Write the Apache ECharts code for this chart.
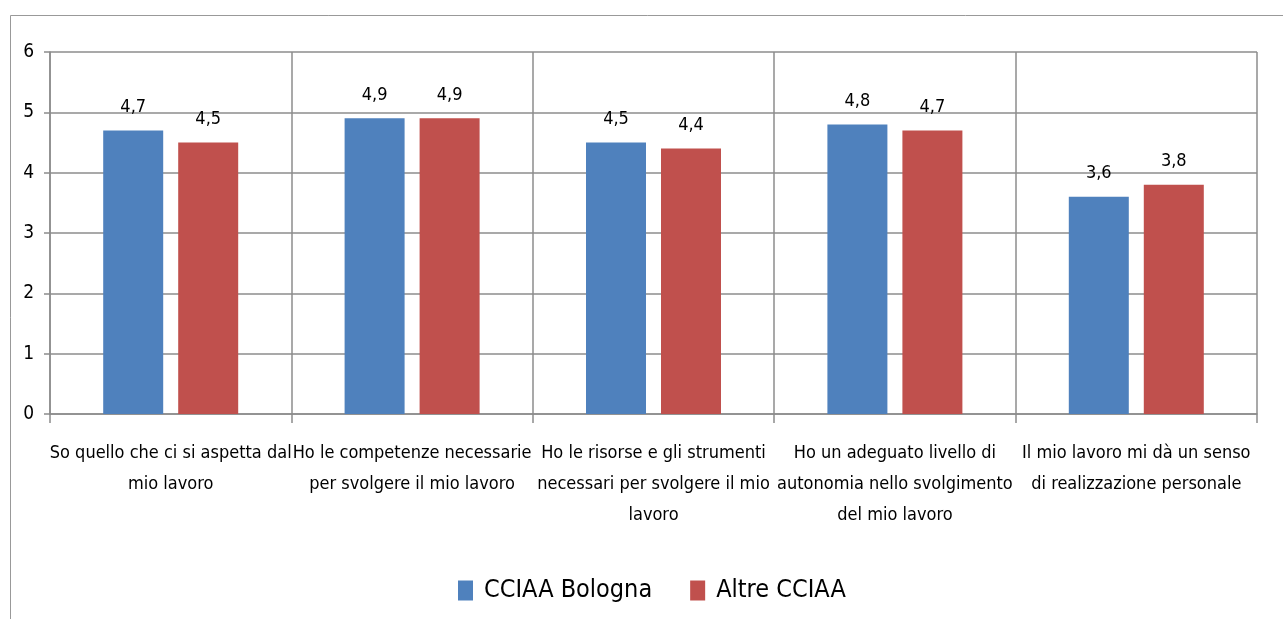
<!DOCTYPE html>
<html>
<head>
<meta charset="utf-8">
<script src="https://cdn.jsdelivr.net/npm/echarts@6/dist/echarts.min.js"></script>
<style>
  html, body { margin: 0; padding: 0; background: #fff; }
  #chart { width: 1283px; height: 619px; }
</style>
</head>
<body>
<div id="chart"></div>
<script>
// categorie (a capo come nel grafico originale)
var categories = [
  "So quello che ci si aspetta dal\nmio lavoro",
  "Ho le competenze necessarie\nper svolgere il mio lavoro",
  "Ho le risorse e gli strumenti\nnecessari per svolgere il mio\nlavoro",
  "Ho un adeguato livello di\nautonomia nello svolgimento\ndel mio lavoro",
  "Il mio lavoro mi dà un senso\ndi realizzazione personale"
];
var bologna = [4.7, 4.9, 4.5, 4.8, 3.6];
var altre = [4.5, 4.9, 4.4, 4.7, 3.8];
var yTicks = [0, 1, 2, 3, 4, 5, 6];

var fontName = "'Liberation Sans Narrow', 'DejaVu Sans Condensed', sans-serif";
var lineColor = "#8c8c8c";

var myChart = echarts.init(document.getElementById("chart"));

function virgola(p) {
  return String(p.value).replace(".", ",");
}

myChart.setOption({
  animation: false,
  textStyle: { fontFamily: fontName },
  graphic: [
    {
      type: "rect",
      shape: { x: 10.5, y: 15.5, width: 1300, height: 700 },
      style: { fill: "none", stroke: "#999", lineWidth: 1 },
      z: -1
    }
  ],
  grid: { left: 50, right: 26, top: 52, bottom: 205 },
  legend: {
    bottom: 11,
    left: 453,
    itemWidth: 15,
    itemHeight: 20,
    itemGap: 38,
    icon: "rect",
    textStyle: { fontSize: 25, color: "#000", fontFamily: fontName, padding: [0, 0, 0, 6] }
  },
  xAxis: {
    type: "category",
    data: categories,
    axisLine: { lineStyle: { color: lineColor, width: 1.5 } },
    axisTick: { show: true, length: 9, lineStyle: { color: lineColor, width: 1.5 } },
    splitLine: { show: true, lineStyle: { color: lineColor, width: 1.5 } },
    axisLabel: {
      interval: 0,
      margin: 24,
      fontSize: 18,
      lineHeight: 31,
      color: "#000",
      fontFamily: fontName
    }
  },
  yAxis: {
    type: "value",
    min: yTicks[0],
    max: yTicks[yTicks.length - 1],
    interval: 1,
    axisLine: { show: true, lineStyle: { color: lineColor, width: 1.5 } },
    axisTick: { show: true, length: 6, lineStyle: { color: lineColor, width: 1.5 } },
    splitLine: { show: true, lineStyle: { color: lineColor, width: 1.5 } },
    axisLabel: { fontSize: 19, color: "#000", margin: 16, fontFamily: fontName }
  },
  series: [
    {
      name: "CCIAA Bologna",
      type: "bar",
      data: bologna,
      barWidth: 60,
      barGap: "25%",
      itemStyle: { color: "#4F81BD" },
      label: { show: true, position: "top", distance: 14, fontSize: 18, color: "#000", formatter: virgola, fontFamily: fontName }
    },
    {
      name: "Altre CCIAA",
      type: "bar",
      data: altre,
      barWidth: 60,
      barGap: "25%",
      itemStyle: { color: "#C0504D" },
      label: { show: true, position: "top", distance: 14, fontSize: 18, color: "#000", formatter: virgola, fontFamily: fontName }
    }
  ]
});
</script>
</body>
</html>
